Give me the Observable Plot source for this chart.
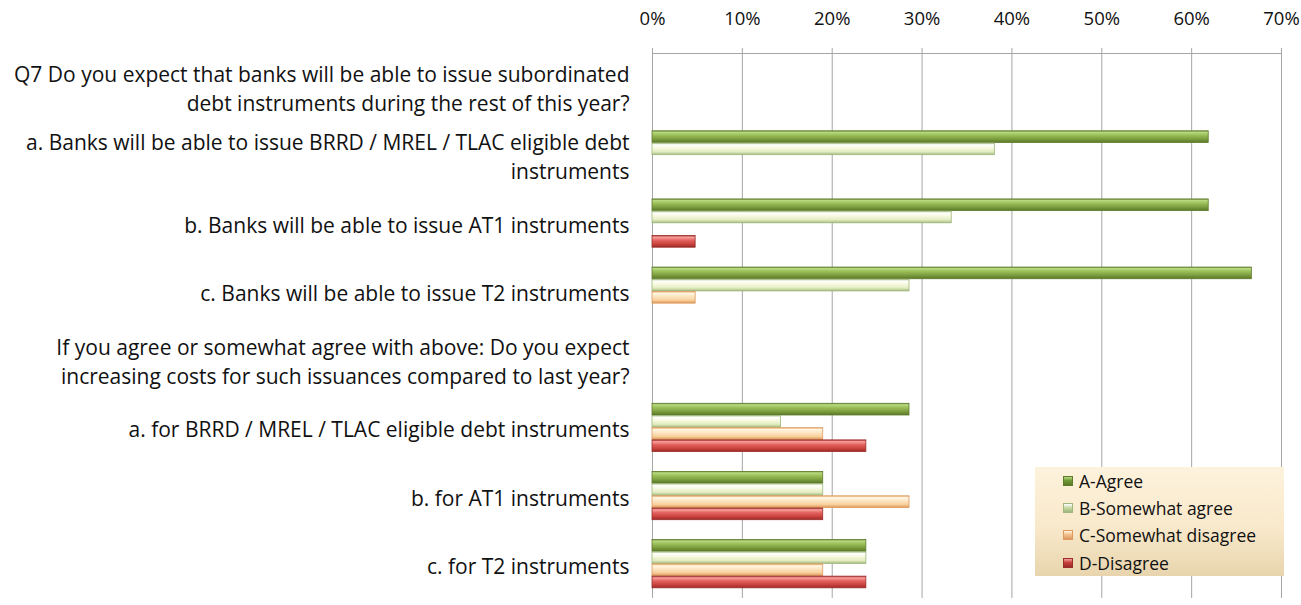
<!DOCTYPE html>
<html>
<head>
<meta charset="utf-8">
<script src="https://cdn.jsdelivr.net/npm/d3@7"></script>
<script src="https://cdn.jsdelivr.net/npm/@observablehq/plot@0.6"></script>
<style>
  body { margin: 0; background: #fff; }
  #wrap { position: relative; width: 1301px; height: 605px; font-family: "Open Sans", "Noto Sans", sans-serif; }
  #wrap svg { display: block; }
  g[aria-label^="bar-"] { filter: drop-shadow(1px 2px 1.2px rgba(0,0,0,0.28)); }
  #legend {
    position: absolute; left: 1035px; top: 467px; width: 249px; height: 109px;
    background: linear-gradient(#fdf2dc, #f9e9cb 55%, #e8d5ae);
    box-sizing: border-box; padding: 0 0 0 28px;
    font-family: "Open Sans", "Noto Sans", sans-serif; font-size: 17.5px; color: #111;
  }
  #legend .item { height: 27.3px; display: flex; align-items: center; }
  #legend .sw { width: 10px; height: 10px; margin-right: 6px; border: 1px solid; box-sizing: border-box; }
</style>
</head>
<body>
<div id="wrap"></div>
<script>
// ---- data ----
const questions = [
  "Q7 Do you expect that banks will be able to issue subordinated\ndebt instruments during the rest of this year?",
  "a. Banks will be able to issue BRRD / MREL / TLAC eligible debt\ninstruments",
  "b. Banks will be able to issue AT1 instruments",
  "c. Banks will be able to issue T2 instruments",
  "If you agree or somewhat agree with above: Do you expect\nincreasing costs for such issuances compared to last year?",
  "a. for BRRD / MREL / TLAC eligible debt instruments",
  "b. for AT1 instruments",
  "c. for T2 instruments"
];
const answers = ["A-Agree", "B-Somewhat agree", "C-Somewhat disagree", "D-Disagree"];
const agree            = [null, 0.619, 0.619, 0.667, null, 0.286, 0.190, 0.238];
const somewhatAgree    = [null, 0.381, 0.333, 0.286, null, 0.143, 0.190, 0.238];
const somewhatDisagree = [null, 0,     0,     0.048, null, 0.190, 0.286, 0.190];
const disagree         = [null, 0,     0.048, 0,     null, 0.238, 0.190, 0.238];
const series = [agree, somewhatAgree, somewhatDisagree, disagree];
const xTicks = [0, 0.1, 0.2, 0.3, 0.4, 0.5, 0.6, 0.7];

// ---- styles ----
const gradStops = [
  [[0, "#6f8d36"], [0.12, "#b9da82"], [0.35, "#9dc15b"], [0.7, "#7c9d3e"], [1, "#5a7829"]],
  [[0, "#aec488"], [0.15, "#ffffff"], [0.4, "#f8fae2"], [0.75, "#e2ecc0"], [1, "#a3ba80"]],
  [[0, "#e9a86c"], [0.15, "#fff6e2"], [0.4, "#fde7c5"], [0.75, "#f8cf9c"], [1, "#dc9656"]],
  [[0, "#b13b38"], [0.15, "#f7a09d"], [0.4, "#e4635f"], [0.75, "#c8403c"], [1, "#972a27"]]
];
const strokes = ["#5e7a2b", "#9fb67c", "#dc9a5e", "#9a2d2a"];
const swatch = ["#6f9a35", "#c9dba6", "#f2c08e", "#c63d3a"];

const slot = 0.179;  // fraction of category band per bar
const rows = answers.map((a, j) =>
  questions.map((q, i) => ({i, j, v: series[j][i]})).filter(d => d.v != null && d.v > 0)
);

const defs = () => {
  const d = d3.create("svg:defs");
  gradStops.forEach((stops, j) => {
    const g = d.append("linearGradient").attr("id", "g" + j)
      .attr("x1", 0).attr("y1", 0).attr("x2", 0).attr("y2", 1);
    stops.forEach(([o, c]) => g.append("stop").attr("offset", o).attr("stop-color", c));
  });
  return d.node();
};

const barMarks = rows.map((data, j) => Plot.rectX(data, {
  x1: 0,
  x2: "v",
  y1: d => d.i + (d.j - 2) * slot,
  y2: d => d.i + (d.j - 1) * slot,
  fill: "url(#g" + j + ")",
  stroke: strokes[j],
  strokeWidth: 0.8,
  insetBottom: 0.5,
  ariaLabel: "bar-" + j
}));

const chart = Plot.plot({
  width: 1301,
  height: 605,
  marginLeft: 652,
  marginRight: 20,
  marginTop: 53,
  marginBottom: 7,
  style: {fontFamily: "'Open Sans', 'Noto Sans', sans-serif", color: "#111", background: "#fff"},
  x: {domain: [0, 0.7], axis: null, label: null},
  y: {domain: [-0.5, 7.5], reverse: true, axis: null, label: null},
  marks: [
    defs,
    Plot.gridX(xTicks, {stroke: "#a6a6a6", strokeOpacity: 1}),
    Plot.ruleY([-0.5], {stroke: "#a6a6a6"}),
    Plot.axisX(xTicks, {
      anchor: "top", tickFormat: d3.format(".0%"), tickSize: 6, tickPadding: 23,
      stroke: "#a6a6a6", fontSize: 18.5, fill: "#111", label: null
    }),
    Plot.axisY(d3.range(questions.length), {
      anchor: "left", tickFormat: i => questions[i], tickSize: 0, tickPadding: 23,
      fontSize: 21, lineHeight: 29 / 21, fill: "#111", label: null
    }),
    ...barMarks
  ]
});

const wrap = document.getElementById("wrap");
wrap.appendChild(chart);

// legend
const legend = document.createElement("div");
legend.id = "legend";
answers.forEach((a, j) => {
  const item = document.createElement("div");
  item.className = "item";
  const sw = document.createElement("span");
  sw.className = "sw";
  sw.style.background = `linear-gradient(${gradStops[j][1][1]}, ${swatch[j]} 45%, ${strokes[j]})`;
  sw.style.borderColor = strokes[j];
  const t = document.createElement("span");
  t.textContent = a;
  item.appendChild(sw); item.appendChild(t);
  legend.appendChild(item);
});
wrap.appendChild(legend);
</script>
</body>
</html>
